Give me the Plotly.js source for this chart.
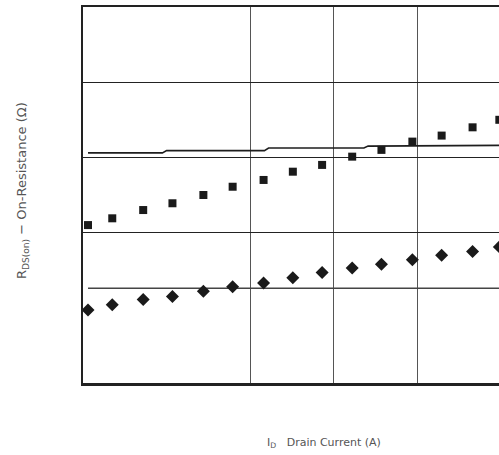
<!DOCTYPE html>
<html>
<head>
<meta charset="utf-8">
<script src="https://cdn.plot.ly/plotly-3.0.1.min.js"></script>
<style>html,body{margin:0;padding:0;overflow:hidden;background:#fff;}</style>
</head>
<body>
<div id="chart"></div>
<script>
// Drain current (relative units, no tick labels in the reference)
const current = [0.06, 0.35, 0.72, 1.07, 1.44, 1.79, 2.16, 2.51, 2.86, 3.22, 3.57, 3.94, 4.29, 4.66, 4.98];
const rdsSquare = [2.10, 2.19, 2.30, 2.39, 2.50, 2.61, 2.70, 2.81, 2.90, 3.01, 3.10, 3.21, 3.29, 3.40, 3.50];
const rdsDiamond = [0.97, 1.04, 1.11, 1.15, 1.22, 1.28, 1.33, 1.40, 1.47, 1.53, 1.58, 1.64, 1.70, 1.75, 1.81];
const upperLineX = [0.06, 0.95, 1.0, 2.17, 2.22, 3.36, 3.41, 4.45, 4.5, 5.0];
const upperLineY = [3.06, 3.06, 3.09, 3.09, 3.125, 3.125, 3.15, 3.15, 3.16, 3.16];
const lowerLineX = [0.06, 5.0];
const lowerLineY = [1.26, 1.26];
const xGrid = [2, 3, 4];
const yGrid = [2, 3, 4];

const traces = [
  {x: upperLineX, y: upperLineY, mode: 'lines', line: {color: '#1e1e1e', width: 1.6}, hoverinfo: 'skip'},
  {x: lowerLineX, y: lowerLineY, mode: 'lines', line: {color: '#444', width: 1.6}, hoverinfo: 'skip'},
  {x: current, y: rdsSquare, mode: 'markers', marker: {symbol: 'square', size: 8, color: '#1a1a1a'}},
  {x: current, y: rdsDiamond, mode: 'markers', marker: {symbol: 'diamond', size: 10, color: '#1a1a1a'}}
];

const layout = {
  width: 520, height: 455,
  margin: {l: 83, r: 19, t: 7, b: 72},
  paper_bgcolor: '#fff', plot_bgcolor: '#fff',
  showlegend: false,
  xaxis: {range: [0, 5], tickvals: xGrid, showticklabels: false, ticks: '',
          showgrid: true, gridcolor: '#555', gridwidth: 1, zeroline: false,
          showline: true, mirror: true, linecolor: '#222', linewidth: 2.5},
  yaxis: {range: [0, 5], tickvals: yGrid, showticklabels: false, ticks: '',
          showgrid: true, gridcolor: '#222', gridwidth: 1, zeroline: false,
          showline: true, mirror: true, linecolor: '#222', linewidth: 2.5},
  annotations: [
    {text: 'R<sub>DS(on)</sub> \u2212 On-Resistance (\u03A9)', xref: 'paper', yref: 'paper',
     x: -0.146, y: 0.513, xanchor: 'center', yanchor: 'middle', textangle: -90, showarrow: false,
     font: {family: 'DejaVu Sans, sans-serif', size: 13, color: '#555'}},
    {text: 'I<sub>D</sub>\u00A0\u00A0\u00A0Drain Current (A)', xref: 'paper', yref: 'paper',
     x: 0.577, y: -0.16, xanchor: 'center', yanchor: 'middle', showarrow: false,
     font: {family: 'DejaVu Sans, sans-serif', size: 11, color: '#555'}}
  ]
};

Plotly.newPlot('chart', traces, layout, {displayModeBar: false, staticPlot: true});
</script>
</body>
</html>
